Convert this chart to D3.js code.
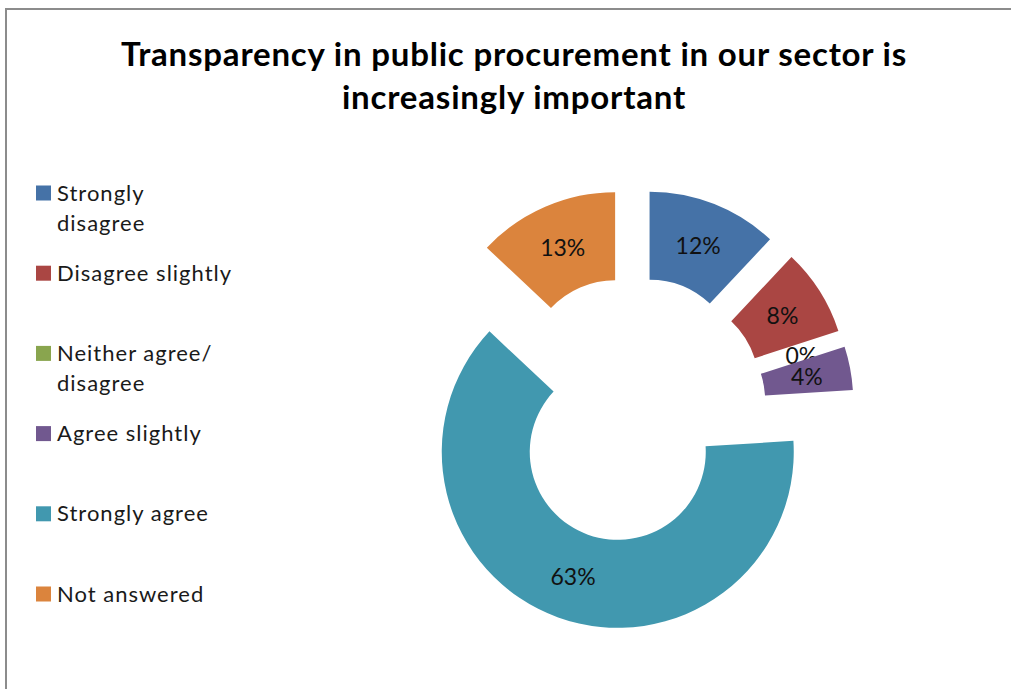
<!DOCTYPE html>
<html>
<head>
<meta charset="utf-8">
<script src="https://cdn.jsdelivr.net/npm/d3@7"></script>
<style>
  html, body { margin: 0; padding: 0; background: #fff; }
  svg { display: block; }
</style>
</head>
<body>
<svg id="chart" width="1011" height="689"></svg>
<script>
// Survey answers, percent of respondents
const categories = ["Strongly disagree", "Disagree slightly", "Neither agree/ disagree",
                    "Agree slightly", "Strongly agree", "Not answered"];
const percentages = [12, 8, 0, 4, 63, 13];
const legendLines = [["Strongly", "disagree"], ["Disagree slightly"], ["Neither agree/", "disagree"],
                     ["Agree slightly"], ["Strongly agree"], ["Not answered"]];
const colors = ["#4572A7", "#AA4643", "#89A54E", "#71588F", "#4198AF", "#DB843D"];
const titleLines = ["Transparency in public procurement in our sector is", "increasingly important"];

const svg = d3.select("#chart");
const font = "Lato, 'Open Sans', sans-serif";

// chart area frame (runs off the right and bottom edges)
svg.append("rect")
  .attr("x", 6).attr("y", 9)
  .attr("width", 1200).attr("height", 900)
  .attr("fill", "#fff")
  .attr("stroke", "#8c8c8c")
  .attr("stroke-width", 2);

// title
svg.append("g").selectAll("text")
  .data(titleLines)
  .join("text")
  .attr("x", 514)
  .attr("y", (d, i) => 66 + i * 43)
  .attr("text-anchor", "middle")
  .attr("font-family", font)
  .attr("font-weight", "bold")
  .attr("font-size", 33)
  .attr("letter-spacing", 0.8)
  .attr("fill", "#000")
  .text(d => d);

// exploded doughnut
const cx = 633, cy = 409.5;
const outerR = 176, innerR = 88, explode = 45;

const pie = d3.pie().sort(null).value(d => d.value).startAngle(0).endAngle(2 * Math.PI);
const arcs = pie(percentages.map((v, i) => ({ value: v, name: categories[i], color: colors[i] })));
const arc = d3.arc().innerRadius(innerR).outerRadius(outerR);
const labelArc = d3.arc().innerRadius((innerR + outerR) / 2).outerRadius((innerR + outerR) / 2);

const offset = d => {
  const a = (d.startAngle + d.endAngle) / 2;
  return [Math.sin(a) * explode, -Math.cos(a) * explode];
};

const slices = svg.append("g")
  .attr("transform", `translate(${cx},${cy})`)
  .selectAll("g")
  .data(arcs)
  .join("g")
  .attr("transform", d => `translate(${offset(d)})`);

slices.filter(d => d.data.value > 0)
  .append("path")
  .attr("d", arc)
  .attr("fill", d => d.data.color);

slices.append("text")
  .attr("transform", d => `translate(${labelArc.centroid(d)})`)
  .attr("text-anchor", "middle")
  .attr("dominant-baseline", "central")
  .attr("font-family", font)
  .attr("font-size", 23)
  .attr("fill", "#111")
  .text(d => d3.format(".0f")(d.data.value) + "%");

// legend
const legend = svg.append("g")
  .selectAll("g")
  .data(categories)
  .join("g")
  .attr("transform", (d, i) => `translate(36,${193 + i * 80.2})`);

legend.append("rect")
  .attr("x", 0).attr("y", -7.5)
  .attr("width", 15).attr("height", 15)
  .attr("fill", (d, i) => colors[i]);

legend.append("text")
  .attr("x", 21)
  .attr("y", 7.5)
  .attr("font-family", font)
  .attr("font-size", 22)
  .attr("letter-spacing", 1)
  .attr("fill", "#1a1a1a")
  .selectAll("tspan")
  .data((d, i) => legendLines[i])
  .join("tspan")
  .attr("x", 21)
  .attr("dy", (d, j) => j === 0 ? 0 : 30)
  .text(d => d);
</script>
</body>
</html>
